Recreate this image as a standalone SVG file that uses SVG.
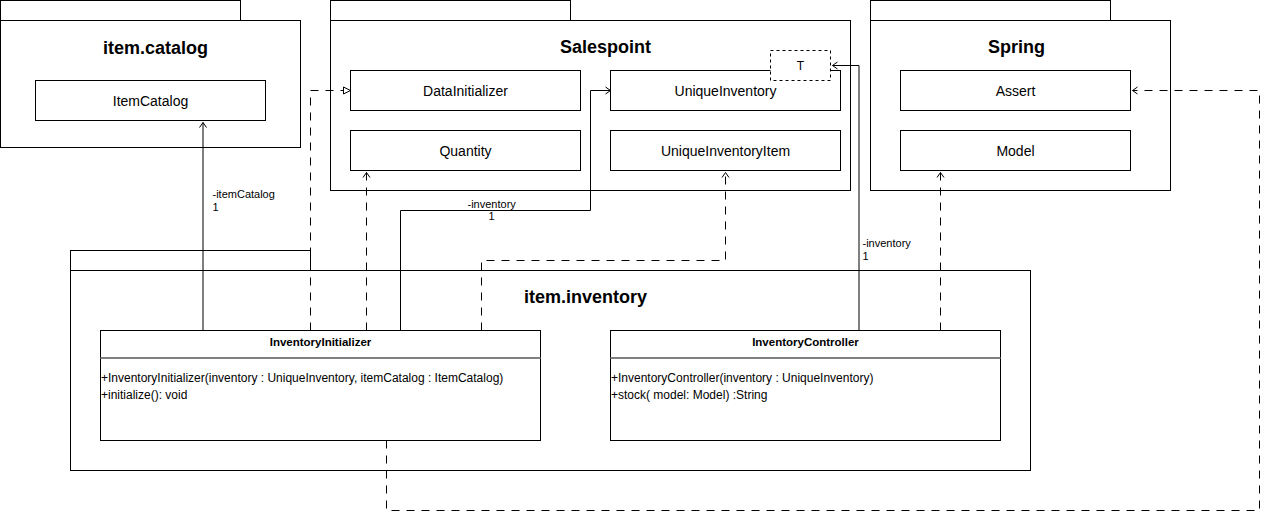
<svg xmlns="http://www.w3.org/2000/svg" width="1269" height="519" viewBox="0 0 1269 519">
<style>
  .box { fill: #ffffff; stroke: #000000; stroke-width: 1; }
  .tbox { fill: #ffffff; stroke: #000000; stroke-width: 1; stroke-dasharray: 3 3; }
  .sep { stroke: #808080; stroke-width: 2; fill: none; }
  .pkg { font-family: "Liberation Sans", Arial, sans-serif; font-size: 18px; font-weight: bold; text-anchor: middle; fill: #000; }
  .cls { font-family: "Liberation Sans", Arial, sans-serif; font-size: 14px; text-anchor: middle; fill: #000; }
  .hdr { font-family: "Liberation Sans", Arial, sans-serif; font-size: 11.5px; font-weight: bold; text-anchor: middle; fill: #000; }
  .mth { font-family: "Liberation Sans", Arial, sans-serif; font-size: 12px; fill: #000; }
  .lbl { font-family: "Liberation Sans", Arial, sans-serif; font-size: 11px; fill: #000; }
  .solid { fill: none; stroke: #000; stroke-width: 1; }
  .dash { fill: none; stroke: #000; stroke-width: 1; stroke-dasharray: 8 7; }
</style>
<defs>
  <marker id="open" markerUnits="userSpaceOnUse" viewBox="-7 -5 8 10" refX="0" refY="0" markerWidth="8" markerHeight="10" orient="auto" overflow="visible">
    <path d="M -5 -3.5 L 0 0 L -5 3.5" fill="none" stroke="#000" stroke-width="1"/>
  </marker>
  <marker id="tri" markerUnits="userSpaceOnUse" viewBox="-8 -5 9 10" refX="0" refY="0" markerWidth="9" markerHeight="10" orient="auto" overflow="visible">
    <path d="M -7 -3.5 L 0 0 L -7 3.5 Z" fill="#fff" stroke="#000" stroke-width="1"/>
  </marker>
</defs>
<rect x="0" y="0" width="1269" height="519" fill="#ffffff"/>
<g transform="translate(0.5,0.5)">
  <!-- Packages -->
  <g id="pkg-item-catalog">
    <rect class="box" x="0" y="0" width="240" height="20"/>
    <rect class="box" x="0" y="20" width="300" height="127"/>
    <text class="pkg" x="155" y="53">item.catalog</text>
  </g>
  <g id="pkg-salespoint">
    <rect class="box" x="330" y="0" width="240" height="20"/>
    <rect class="box" x="330" y="20" width="520" height="170"/>
    <text class="pkg" x="605" y="52">Salespoint</text>
  </g>
  <g id="pkg-spring">
    <rect class="box" x="870" y="0" width="240" height="20"/>
    <rect class="box" x="870" y="20" width="300" height="170"/>
    <text class="pkg" x="1016" y="52">Spring</text>
  </g>
  <g id="pkg-item-inventory">
    <rect class="box" x="70" y="250" width="240" height="20"/>
    <rect class="box" x="70" y="270" width="960" height="200"/>
    <text class="pkg" x="585" y="302">item.inventory</text>
  </g>

  <!-- Simple nodes -->
  <g id="node-itemcatalog">
    <rect class="box" x="35" y="80" width="230" height="40"/>
    <text class="cls" x="150" y="105">ItemCatalog</text>
  </g>
  <g id="node-datainitializer">
    <rect class="box" x="350" y="70" width="230" height="40"/>
    <text class="cls" x="465" y="95">DataInitializer</text>
  </g>
  <g id="node-quantity">
    <rect class="box" x="350" y="130" width="230" height="40"/>
    <text class="cls" x="465" y="155">Quantity</text>
  </g>
  <g id="node-uniqueinventory">
    <rect class="box" x="610" y="70" width="230" height="40"/>
    <text class="cls" x="725" y="95">UniqueInventory</text>
  </g>
  <g id="node-t">
    <rect class="tbox" x="770" y="50" width="60" height="30"/>
    <text class="mth" x="800" y="69.5" text-anchor="middle">T</text>
  </g>
  <g id="node-uniqueinventoryitem">
    <rect class="box" x="610" y="130" width="230" height="40"/>
    <text class="cls" x="725" y="155">UniqueInventoryItem</text>
  </g>
  <g id="node-assert">
    <rect class="box" x="900" y="70" width="230" height="40"/>
    <text class="cls" x="1015" y="95">Assert</text>
  </g>
  <g id="node-model">
    <rect class="box" x="900" y="130" width="230" height="40"/>
    <text class="cls" x="1015" y="155">Model</text>
  </g>

  <!-- Classes -->
  <g id="node-inventoryinitializer">
    <rect class="box" x="100" y="330" width="440" height="110"/>
    <line class="sep" x1="100" y1="357.5" x2="540" y2="357.5"/>
    <text class="hdr" x="320" y="345">InventoryInitializer</text>
    <text class="mth" x="100.5" y="381">+InventoryInitializer(inventory : UniqueInventory, itemCatalog : ItemCatalog)</text>
    <text class="mth" x="100.5" y="398">+initialize(): void</text>
  </g>
  <g id="node-inventorycontroller">
    <rect class="box" x="610" y="330" width="390" height="110"/>
    <line class="sep" x1="610" y1="357.5" x2="1000" y2="357.5"/>
    <text class="hdr" x="805" y="345">InventoryController</text>
    <text class="mth" x="610.5" y="381">+InventoryController(inventory : UniqueInventory)</text>
    <text class="mth" x="610.5" y="398">+stock( model: Model) :String</text>
  </g>

  <!-- Connectors -->
  <g id="connectors">
    <path class="solid" d="M 202.5 330 L 202.5 122" marker-end="url(#open)"/>
    <text class="lbl" x="212" y="197">-itemCatalog</text>
    <text class="lbl" x="212" y="210">1</text>

    <path class="dash" d="M 310 330 L 310 90 L 350 90" marker-end="url(#tri)"/>

    <path class="dash" d="M 366 330 L 366 172" marker-end="url(#open)"/>

    <path class="solid" d="M 400 330 L 400 210 L 590 210 L 590 90 L 610 90" marker-end="url(#open)"/>
    <text class="lbl" x="467" y="207">-inventory</text>
    <text class="lbl" x="488" y="219">1</text>

    <path class="dash" d="M 481 330 L 481 260 L 725 260 L 725 172" marker-end="url(#open)"/>

    <path class="solid" d="M 858.5 330 L 858.5 65 L 832 65" marker-end="url(#open)"/>
    <text class="lbl" x="862" y="246">-inventory</text>
    <text class="lbl" x="862" y="259">1</text>

    <path class="dash" d="M 940 330 L 940 172" marker-end="url(#open)"/>

    <path class="dash" d="M 386 440 L 386 510 L 1259 510 L 1259 90 L 1132 90" marker-end="url(#open)"/>
  </g>
</g>
</svg>
